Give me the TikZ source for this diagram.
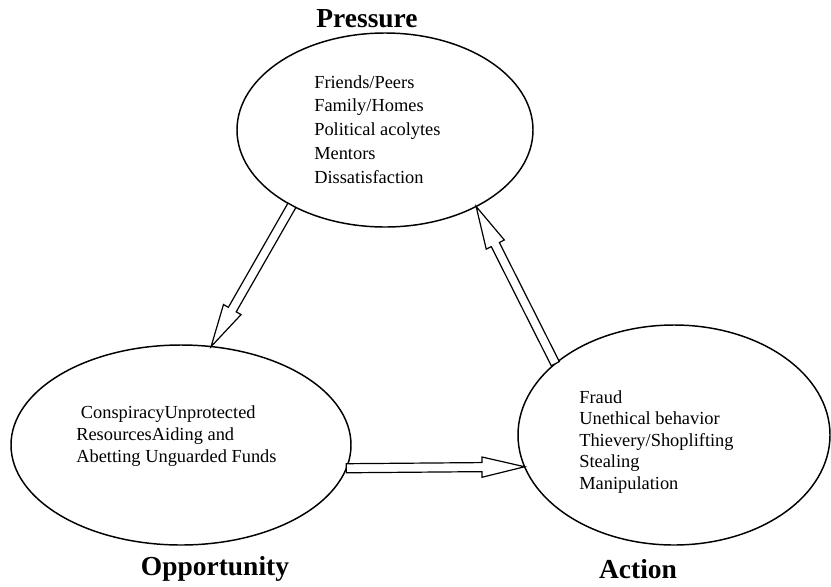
\documentclass[tikz,border=0pt]{standalone}
\usepackage{fontspec}
\setmainfont{Liberation Serif}
\usetikzlibrary{calc,shapes.geometric}

\tikzset{
  factor/.style={ellipse, draw, line width=1.1pt, inner sep=0pt, outer sep=0pt},
  factorlist/.style={anchor=base west, align=left, inner sep=0pt},
  factortitle/.style={anchor=base, inner sep=0pt, font=\fontsize{20.6}{24}\selectfont\bfseries},
  hollowarrow/.style={draw, fill=white, line width=0.9pt, line join=miter}
}

% Hollow block arrow: name, tail point, tip point
\newcommand{\triArrow}[3]{%
  \coordinate (#1-tail) at (#2);
  \coordinate (#1-tip) at (#3);
  \coordinate (#1-neck) at ($(#1-tip)!\triHeadLength!(#1-tail)$);
  \draw[hollowarrow] ($(#1-tail)!\triShaftHalf!90:(#1-tip)$)
    -- ($(#1-neck)!\triShaftHalf!90:(#1-tip)$)
    -- ($(#1-neck)!\triHeadHalf!90:(#1-tip)$)
    -- (#1-tip)
    -- ($(#1-neck)!\triHeadHalf!-90:(#1-tip)$)
    -- ($(#1-neck)!\triShaftHalf!-90:(#1-tip)$)
    -- ($(#1-tail)!\triShaftHalf!-90:(#1-tip)$) -- cycle;
}

\begin{document}
\begin{tikzpicture}
% Fraud triangle, laid out on a pixel grid with y running down
\def\pxsz{0.75pt}
\providecommand{\triShaftHalf}{3.4pt}
\providecommand{\triHeadHalf}{7.6pt}
\providecommand{\triHeadLength}{32pt}
\begin{scope}[x=\pxsz, y=-\pxsz]
  \useasboundingbox (0,0) rectangle (831,586);
  % The three corners
  \node[factor, minimum width=296*\pxsz, minimum height=194*\pxsz] (press) at (385,130) {};
  \node[factor, minimum width=340*\pxsz, minimum height=200*\pxsz] (opp) at (181,445) {};
  \node[factor, minimum width=312*\pxsz, minimum height=220*\pxsz] (act) at (674,435) {};
  % Titles
  \node[factortitle] (press-title) at (367,27) {Pressure};
  \node[factortitle] (opp-title) at (215,575) {Opportunity};
  \node[factortitle] (act-title) at (638,578) {Action};
  % Lists inside the ellipses (anchored on the last line)
  \node[factorlist, font=\fontsize{13.8}{17.8}\selectfont] (press-list) at (314,183)
    {Friends/Peers\\Family/Homes\\Political acolytes\\Mentors\\Dissatisfaction};
  \node[factorlist, font=\fontsize{13.8}{16.5}\selectfont] (opp-list) at (76,462)
    {~ConspiracyUnprotected\\ResourcesAiding and\\Abetting Unguarded Funds};
  \node[factorlist, font=\fontsize{13.8}{16.1}\selectfont] (act-list) at (579,489)
    {Fraud\\Unethical behavior\\Thievery/Shoplifting\\Stealing\\Manipulation};
  % Arrows round the cycle
  \triArrow{po}{press.219}{opp.73}
  \triArrow{oa}{opp.-8}{act.192}
  \triArrow{ap}{act.149}{press.320}
\end{scope}
\end{tikzpicture}
\end{document}
